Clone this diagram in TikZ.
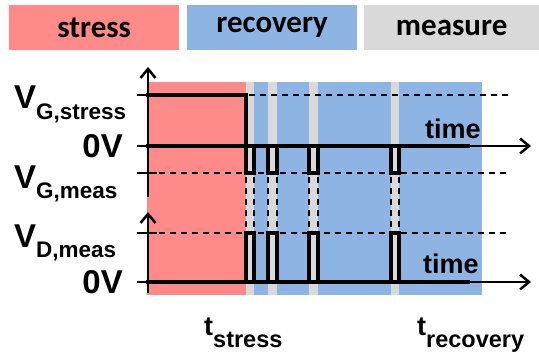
\documentclass[tikz,border=0pt]{standalone}
\usepackage{fontspec}
\setmainfont{Liberation Sans}
\newfontfamily\calibri{Carlito}
\usetikzlibrary{arrows.meta}
\definecolor{stressred}{RGB}{255,138,138}
\definecolor{recblue}{RGB}{141,180,226}
\definecolor{measgray}{RGB}{217,217,217}
\begin{document}
\begin{tikzpicture}[x=1pt,y=-1pt,
  hdr/.style={inner sep=0pt, anchor=north west, minimum height=45pt,
    font=\calibri\bfseries\fontsize{31}{36}\selectfont, text=black},
  lbl/.style={inner sep=0pt, font=\bfseries},
  axis/.style={line width=2.5pt, -{Straight Barb[length=9pt,width=15pt,line width=2.5pt]}},
  tick/.style={line width=2.5pt},
  sig/.style={line width=3.6pt, line join=miter, line cap=rect},
  dsh/.style={line width=1.8pt, dash pattern=on 6pt off 5pt}]
\useasboundingbox (0,0) rectangle (539,356);
% header boxes
\node[hdr, fill=stressred, minimum width=170pt] (hstress) at (9,5) {stress};
\node[hdr, fill=recblue, minimum width=170pt] (hrec) at (187,5) {recovery};
\node[hdr, fill=measgray, minimum width=175pt] (hmeas) at (364,5) {measure};
% backgrounds
\fill[stressred] (147,82) rectangle (246,295);
\fill[recblue] (246,82) rectangle (482,295);
\foreach \a/\b in {246/254,268/277,309/318,391/399}
  \fill[measgray] (\a,82) rectangle (\b,295);
% dashed guide lines
\draw[dsh] (249,95) -- (510,95);
\draw[dsh] (148,173) -- (510,173);
\draw[dsh] (148,233) -- (510,233);
\foreach \x in {246,254,268,277,309,318,391,399}
  \draw[dsh] (\x,177) -- (\x,229);
% axes
\coordinate (ya0) at (148,197);
\coordinate (ya1) at (148,67);
\coordinate (yb0) at (148,293);
\coordinate (yb1) at (148,212);
\coordinate (xa0) at (148,146);
\coordinate (xa1) at (531,146);
\coordinate (xb0) at (148,282);
\coordinate (xb1) at (531,282);
\draw[axis] (ya0) -- (ya1);
\draw[axis] (yb0) -- (yb1);
\draw[axis] (xa0) -- (xa1);
\draw[axis] (xb0) -- (xb1);
\foreach \y in {95,146,173,233,282}
  \draw[tick] (137,\y) -- (157,\y);
% gate signal
\draw[sig] (148,95) -- (246,95) -- (246,173) -- (254,173) -- (254,146);
\draw[sig] (148,146) -- (468,146);
\foreach \a/\b in {268/277,309/318,391/399}
  \draw[sig] (\a,146) -- (\a,173) -- (\b,173) -- (\b,146);
% drain signal
\draw[sig] (148,282) -- (468,282);
\foreach \a/\b in {246/254,268/277,309/318,391/399}
  \draw[sig] (\a,282) -- (\a,233) -- (\b,233) -- (\b,282);
% labels
\node[lbl, anchor=base west] (lvgs) at (14,108)
  {\fontsize{33}{38}\selectfont V\fontsize{22.5}{26}\selectfont\raisebox{-11pt}{G,stress}};
\node[lbl, anchor=base east] (l0a) at (123,157) {\fontsize{33}{38}\selectfont 0V};
\node[lbl, anchor=base west] (lvgm) at (14,188)
  {\fontsize{33}{38}\selectfont V\fontsize{22.5}{26}\selectfont\raisebox{-10pt}{G,meas}};
\node[lbl, anchor=base west] (lvdm) at (14,247)
  {\fontsize{33}{38}\selectfont V\fontsize{22.5}{26}\selectfont\raisebox{-10pt}{D,meas}};
\node[lbl, anchor=base east] (l0b) at (123,293) {\fontsize{33}{38}\selectfont 0V};
\node[lbl, anchor=base west] (ltimea) at (425,138) {\fontsize{27}{30}\selectfont time};
\node[lbl, anchor=base west] (ltimeb) at (423,273) {\fontsize{27}{30}\selectfont time};
\node[lbl, anchor=base west] (lts) at (204,335)
  {\fontsize{27}{30}\selectfont t\fontsize{23.5}{26}\selectfont\raisebox{-12pt}{stress}};
\node[lbl, anchor=base west] (ltr) at (417,335)
  {\fontsize{27}{30}\selectfont t\fontsize{23.5}{26}\selectfont\raisebox{-12pt}{recovery}};
\end{tikzpicture}
\end{document}
